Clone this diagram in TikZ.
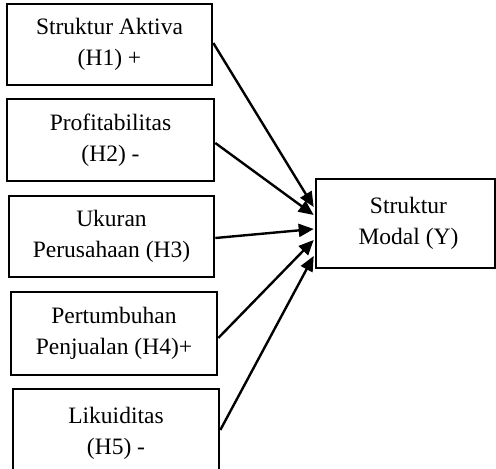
\documentclass[tikz,border=0pt]{standalone}
\usepackage{fontspec}
\setmainfont{Liberation Serif}
\usetikzlibrary{calc,arrows.meta}
\begin{document}
\begin{tikzpicture}[x=1pt,y=-1pt,
  box/.style={draw,line width=2.6pt,rectangle,align=center,inner sep=0pt,
    font=\fontsize{23.5}{31}\selectfont},
  arr/.style={line width=2.4pt,-{Triangle[length=15pt,width=13pt]}}]
\useasboundingbox (0,0) rectangle (496,469);
\node[box,minimum width=205,minimum height=81] (h1) at (109.5,44.5) {Struktur Aktiva\\(H1) +};
\node[box,minimum width=207,minimum height=82] (h2) at (110.5,140) {Profitabilitas\\(H2) -};
\node[box,minimum width=205,minimum height=81] (h3) at (111.5,236.5) {Ukuran\\Perusahaan (H3)};
\node[box,minimum width=206,minimum height=83] (h4) at (114,333.5) {Pertumbuhan\\Penjualan (H4)+};
\node[box,minimum width=206,minimum height=88] (h5) at (116,433) {Likuiditas\\(H5) -};
\node[box,minimum width=179,minimum height=89] (y) at (405.5,223.5) {\hspace*{6pt}Struktur\\\hspace*{6pt}Modal (Y)};
\coordinate (t1) at ($(y.west)+(-1,-16.5)$);
\coordinate (t2) at ($(y.west)+(-1,-8.5)$);
\coordinate (t3) at ($(y.west)+(-1,5.5)$);
\coordinate (t4) at ($(y.west)+(-1,16.5)$);
\coordinate (t5) at ($(y.west)+(-1,32.5)$);
\draw[arr] ($(h1.east)+(0,-1.5)$) -- (t1);
\draw[arr] ($(h2.east)+(0,3)$) -- (t2);
\draw[arr] ($(h3.east)+(0,1.5)$) -- (t3);
\draw[arr] ($(h4.east)+(0,4.5)$) -- (t4);
\draw[arr] ($(h5.east)+(0,-3)$) -- (t5);
\end{tikzpicture}
\end{document}
